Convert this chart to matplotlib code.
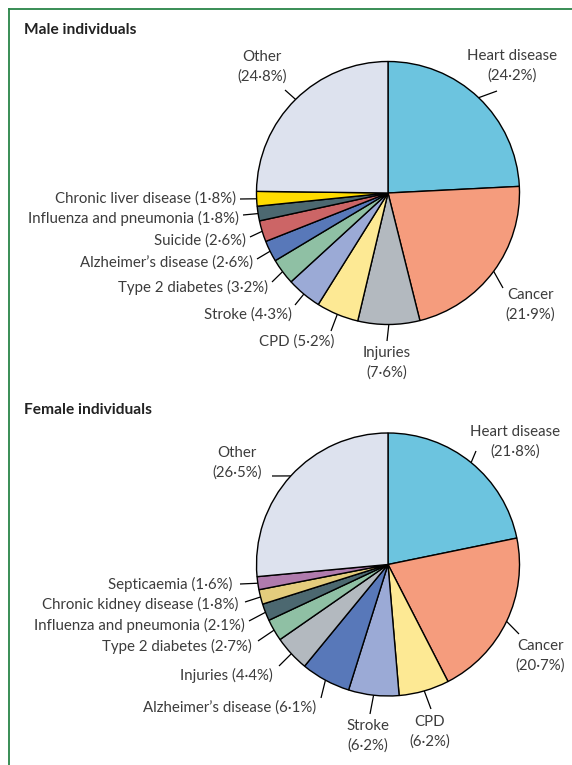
import numpy as np
import matplotlib.pyplot as plt
from matplotlib.lines import Line2D

plt.rcParams['font.family'] = ['Lato', 'DejaVu Sans']

# data
male_causes = ["Heart disease", "Cancer", "Injuries", "CPD", "Stroke", "Type 2 diabetes",
               "Alzheimer\u2019s disease", "Suicide", "Influenza and pneumonia",
               "Chronic liver disease", "Other"]
male_pct = [24.2, 21.9, 7.6, 5.2, 4.3, 3.2, 2.6, 2.6, 1.8, 1.8, 24.8]

female_causes = ["Heart disease", "Cancer", "CPD", "Stroke", "Alzheimer\u2019s disease",
                 "Injuries", "Type 2 diabetes", "Influenza and pneumonia",
                 "Chronic kidney disease", "Septicaemia", "Other"]
female_pct = [21.8, 20.7, 6.2, 6.2, 6.1, 4.4, 2.7, 2.1, 1.8, 1.6, 26.5]

colours = {
    "Heart disease": "#6cc4df",
    "Cancer": "#f59c7d",
    "Injuries": "#b3b9bf",
    "CPD": "#fde994",
    "Stroke": "#9baad6",
    "Type 2 diabetes": "#8fc0a4",
    "Alzheimer\u2019s disease": "#5878b9",
    "Suicide": "#cc6566",
    "Influenza and pneumonia": "#4c6870",
    "Chronic liver disease": "#ffdc00",
    "Chronic kidney disease": "#e3cc7d",
    "Septicaemia": "#b07bad",
    "Other": "#dde2ee",
}

# label layout (pixel coords): text x, text y, ha, two lines?, leader end x, leader end y
male_layout = [
    (512, 66, "center", True, 497, 91),
    (530, 305, "center", True, 503, 288),
    (387, 363, "center", True, 387, 341),
    (334, 342, "right", False, 331, 331),
    (292, 315, "right", False, 295, 305),
    (268, 287, "right", False, 272, 282),
    (253, 263, "right", False, 257, 259),
    (246, 241, "right", False, 250, 237),
    (239, 218, "right", False, 243, 215),
    (236, 199, "right", False, 240, 199),
    (262, 67, "center", True, 285, 90),
]
female_layout = [
    (515, 442, "center", True, 476, 451),
    (540, 656, "center", True, 519, 634),
    (430, 732, "center", True, 431, 709),
    (368, 736, "center", True, 370, 714),
    (316, 708, "right", False, 321, 698),
    (273, 675, "right", False, 279, 666),
    (252, 646, "right", False, 258, 641),
    (245, 625, "right", False, 249, 621),
    (238, 604, "right", False, 245, 602),
    (232, 584, "right", False, 240, 584),
    (237, 463, "center", True, 272, 476),
]

W, H = 572, 765
fig = plt.figure(figsize=(W / 100, H / 100), dpi=100)
ax = fig.add_axes([0, 0, 1, 1])

TXT = "#3c3c3c"
R = 131.5


def fmt(v):
    return f"{v:.1f}".replace(".", "\u00b7")


def draw_pie(causes, pct, centre, layout, title, title_y):
    cx, cy = centre
    ax.pie(pct, colors=[colours[c] for c in causes], startangle=-90, counterclock=True,
           center=centre, radius=R,
           wedgeprops=dict(edgecolor="black", linewidth=1.0))
    total = sum(pct)
    cum = np.cumsum([0] + list(pct))
    for i, (name, v) in enumerate(zip(causes, pct)):
        tx, ty, ha, two, lx, ly = layout[i]
        mid = np.deg2rad(-90 + 360 * (cum[i] + v / 2) / total)
        sx, sy = cx + R * np.cos(mid), cy + R * np.sin(mid)
        ax.plot([sx, lx], [sy, ly], color="black", lw=0.9, solid_capstyle="butt")
        if two:
            s = f"{name}\n({fmt(v)}%)"
        else:
            s = f"{name} ({fmt(v)}%)"
        ax.text(tx, ty, s, ha=ha, va="center", fontsize=10.8, color=TXT,
                linespacing=1.5)
    ax.text(24, title_y, title, ha="left", va="center", fontsize=11.2,
            fontweight="bold", color="#222222")


draw_pie(male_causes, male_pct, (388, 193), male_layout, "Male individuals", 30)
draw_pie(female_causes, female_pct, (388, 564.5), female_layout, "Female individuals", 410)

ax.set_xlim(0, W)
ax.set_ylim(H, 0)
ax.set_aspect("equal")
ax.axis("off")

# green frame on the left and top
green = "#2a8548"
fig.add_artist(Line2D([8.5 / W, 8.5 / W], [0, 1 - 8.5 / H], color=green, lw=1.3,
                      transform=fig.transFigure))
fig.add_artist(Line2D([8.5 / W, 1], [1 - 8.5 / H, 1 - 8.5 / H], color=green, lw=1.3,
                      transform=fig.transFigure))

fig.savefig("out.png", dpi=100)
